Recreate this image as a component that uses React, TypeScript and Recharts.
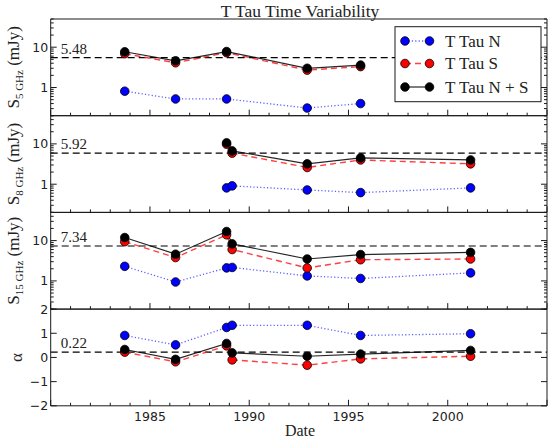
import { LineChart, Line, XAxis, YAxis, ReferenceLine } from "recharts";

// observation epochs (decimal years)
const dates5 = [1983.73, 1986.29, 1988.86, 1992.92, 1995.61];
const dates8 = [1988.86, 1989.14, 1992.92, 1995.61, 2001.15];
const dates15 = [1983.73, 1986.29, 1988.86, 1989.14, 1992.92, 1995.61, 2001.15];

// 5 GHz flux (mJy)
const flux5N = [0.81, 0.52, 0.52, 0.31, 0.4];
const flux5S = [6.9, 4.1, 7.3, 2.7, 3.3];
const flux5NS = [7.7, 4.6, 7.8, 3.0, 3.6];

// 8 GHz flux (mJy)
const flux8N = [0.81, 0.91, 0.72, 0.62, 0.81];
const flux8S = [9.8, 5.9, 2.6, 4.0, 3.2];
const flux8NS = [10.6, 6.7, 3.2, 4.5, 4.0];

// 15 GHz flux (mJy)
const flux15N = [2.3, 0.94, 2.1, 2.16, 1.33, 1.15, 1.58];
const flux15S = [9.4, 3.8, 13.9, 6.0, 2.1, 3.35, 3.5];
const flux15NS = [11.9, 4.6, 16.8, 8.3, 3.5, 4.5, 5.1];

// spectral index
const alphaN = [0.91, 0.52, 1.24, 1.33, 1.33, 0.91, 0.98];
const alphaS = [0.22, -0.18, 0.48, -0.1, -0.32, -0.06, 0.05];
const alphaNS = [0.33, -0.08, 0.58, 0.19, 0.05, 0.14, 0.29];

const means = [5.48, 5.92, 7.34, 0.22];
const seriesNames = ["T Tau N", "T Tau S", "T Tau N + S"];
const bands = ["5 GHz", "8 GHz", "15 GHz"];

const yearTicks = Array.from({ length: 26 }, (_, i) => 1980 + i);
const yearLabels = [1985, 1990, 1995, 2000];
const logTicks = [0.2, 0.3, 0.4, 0.5, 0.6, 0.7, 0.8, 0.9, 1, 2, 3, 4, 5, 6, 7, 8, 9, 10, 20, 30, 40, 50];
const logLabels = [1, 10];
const alphaTicks = [-2, -1, 0, 1, 2];

const W = 548;
const H = 440;
const TOPS = [19, 115.7, 212.4, 309.1];
const PH = 96.7;
const FRAME = "#1a1a1a";
const SANS = "DejaVu Sans";
const SERIF = "Liberation Serif";

const STYLES = [
  { fill: "#0000ff", stroke: "rgba(40,40,255,0.75)", dash: "1.2 2.2", width: 1.3 },
  { fill: "#ff0000", stroke: "rgba(255,30,30,0.85)", dash: "6 4", width: 1.4 },
  { fill: "#000000", stroke: "rgba(0,0,0,0.85)", dash: undefined, width: 1.2 },
];

const pts = (dates: number[], vals: number[]) => dates.map((d, i) => ({ date: d, v: vals[i] }));

function XTick(props: any) {
  const { x, y, payload, top, showLabel } = props;
  const v = payload.value;
  const len = v % 5 === 0 ? 6 : 3;
  const dir = top ? 1 : -1;
  return (
    <g>
      <line x1={x} x2={x} y1={y} y2={y + dir * len} stroke={FRAME} strokeWidth={1} />
      {showLabel && yearLabels.includes(v) && (
        <text x={x} y={y + 15.5} textAnchor="middle" fontFamily={SANS} fontSize={12.5} fill="#222">
          {v}
        </text>
      )}
    </g>
  );
}

function YTick(props: any) {
  const { x, y, payload, right, log } = props;
  const v = payload.value;
  const major = log ? v === 1 || v === 10 : true;
  const len = major ? 6 : 3;
  const dir = right ? -1 : 1;
  const show = !right && (log ? logLabels.includes(v) : true);
  const txt = v < 0 ? "\u2212" + Math.abs(v) : String(v);
  return (
    <g>
      <line x1={x} x2={x + dir * len} y1={y} y2={y} stroke={FRAME} strokeWidth={1} />
      {show && (
        <text x={x - 2.5} y={y} dy="0.36em" textAnchor="end" fontFamily={SANS} fontSize={12.5} fill="#222">
          {txt}
        </text>
      )}
    </g>
  );
}

function dotFor(fill: string) {
  return (p: any) => (
    <circle key={`dot-${p.index}`} cx={p.cx} cy={p.cy} r={4.3} fill={fill} stroke="#000" strokeWidth={0.8} />
  );
}

function Panel({ idx, series, log }: { idx: number; series: { date: number; v: number }[][]; log: boolean }) {
  const top = TOPS[idx];
  const last = idx === 3;
  const mean = means[idx];
  const yProps = log
    ? { scale: "log" as const, domain: [0.2, 50], ticks: logTicks }
    : { domain: [-2, 2], ticks: alphaTicks };
  return (
    <div style={{ position: "absolute", left: 0, top: 0 }}>
      <LineChart width={W} height={H} margin={{ top: top - 1, bottom: H - top - PH - 1, left: 0, right: 0 }}>
        <XAxis
          type="number"
          dataKey="date"
          domain={[1980, 2005]}
          ticks={yearTicks}
          interval={0}
          height={1}
          tickSize={0}
          tickMargin={0}
          tickLine={false}
          axisLine={{ stroke: FRAME, strokeWidth: 1 }}
          tick={(p: any) => <XTick {...p} showLabel={last} />}
        />
        <XAxis
          xAxisId="t"
          orientation="top"
          type="number"
          dataKey="date"
          domain={[1980, 2005]}
          ticks={yearTicks}
          interval={0}
          height={1}
          tickSize={0}
          tickMargin={0}
          tickLine={false}
          axisLine={{ stroke: FRAME, strokeWidth: 1 }}
          tick={(p: any) => <XTick {...p} top />}
        />
        <YAxis
          type="number"
          {...yProps}
          allowDataOverflow
          interval={0}
          width={50.7}
          tickSize={0}
          tickMargin={0}
          tickLine={false}
          axisLine={{ stroke: FRAME, strokeWidth: 1 }}
          tick={(p: any) => <YTick {...p} log={log} />}
        />
        <YAxis
          yAxisId="r"
          orientation="right"
          type="number"
          {...yProps}
          allowDataOverflow
          interval={0}
          width={1}
          tickSize={0}
          tickMargin={0}
          tickLine={false}
          axisLine={{ stroke: FRAME, strokeWidth: 1 }}
          tick={(p: any) => <YTick {...p} log={log} right />}
        />
        <ReferenceLine
          y={mean}
          stroke="#000"
          strokeWidth={1.2}
          strokeDasharray="7 4"
          label={(p: any) => (
            <text x={p.viewBox.x + 10} y={p.viewBox.y - 4} fontFamily={SERIF} fontSize={15} fill="#222">
              {mean.toFixed(2)}
            </text>
          )}
        />
        {series.map((data, k) => (
          <Line
            key={seriesNames[k]}
            name={seriesNames[k]}
            data={data}
            dataKey="v"
            type="linear"
            stroke={STYLES[k].stroke}
            strokeWidth={STYLES[k].width}
            strokeDasharray={STYLES[k].dash}
            dot={dotFor(STYLES[k].fill)}
            activeDot={false}
            isAnimationActive={false}
          />
        ))}
      </LineChart>
    </div>
  );
}

function FluxLabel({ cy, band }: { cy: number; band: string }) {
  return (
    <text transform={`translate(18.5 ${cy}) rotate(-90)`} textAnchor="middle" fontFamily={SERIF} fontSize={17} fill="#222">
      S
      <tspan fontSize={11} dy={4}>{band}</tspan>
      <tspan dy={-4}> (mJy)</tspan>
    </text>
  );
}

function Overlay() {
  const rows = [41, 63.5, 87];
  return (
    <svg width={W} height={H} style={{ position: "absolute", left: 0, top: 0 }}>
      <text x={300} y={16.5} textAnchor="middle" fontFamily={SERIF} fontSize={17.5} fill="#222">
        T Tau Time Variability
      </text>
      {bands.map((b, i) => (
        <FluxLabel key={b} cy={TOPS[i] + PH / 2} band={b} />
      ))}
      <text transform={`translate(21.5 ${TOPS[3] + PH / 2}) rotate(-90)`} textAnchor="middle" fontFamily={SERIF} fontSize={17} fill="#222">
        α
      </text>
      <text x={300} y={435.5} textAnchor="middle" fontFamily={SERIF} fontSize={16} fill="#222">
        Date
      </text>
      <rect x={395} y={26.7} width={146} height={75} fill="#fff" stroke={FRAME} strokeWidth={1} />
      {seriesNames.map((name, k) => (
        <g key={name}>
          <line x1={405} x2={429.5} y1={rows[k]} y2={rows[k]} stroke={STYLES[k].stroke} strokeWidth={STYLES[k].width} strokeDasharray={STYLES[k].dash} />
          <circle cx={405} cy={rows[k]} r={4.3} fill={STYLES[k].fill} stroke="#000" strokeWidth={0.8} />
          <circle cx={429.5} cy={rows[k]} r={4.3} fill={STYLES[k].fill} stroke="#000" strokeWidth={0.8} />
          <text x={445} y={rows[k] + 5.5} fontFamily={SERIF} fontSize={17} fill="#222">
            {name}
          </text>
        </g>
      ))}
    </svg>
  );
}

export default function App() {
  return (
    <div style={{ position: "absolute", left: 0, top: 0, width: W, height: H, background: "#fff" }}>
      <Panel idx={0} log series={[pts(dates5, flux5N), pts(dates5, flux5S), pts(dates5, flux5NS)]} />
      <Panel idx={1} log series={[pts(dates8, flux8N), pts(dates8, flux8S), pts(dates8, flux8NS)]} />
      <Panel idx={2} log series={[pts(dates15, flux15N), pts(dates15, flux15S), pts(dates15, flux15NS)]} />
      <Panel idx={3} log={false} series={[pts(dates15, alphaN), pts(dates15, alphaS), pts(dates15, alphaNS)]} />
      <Overlay />
    </div>
  );
}
